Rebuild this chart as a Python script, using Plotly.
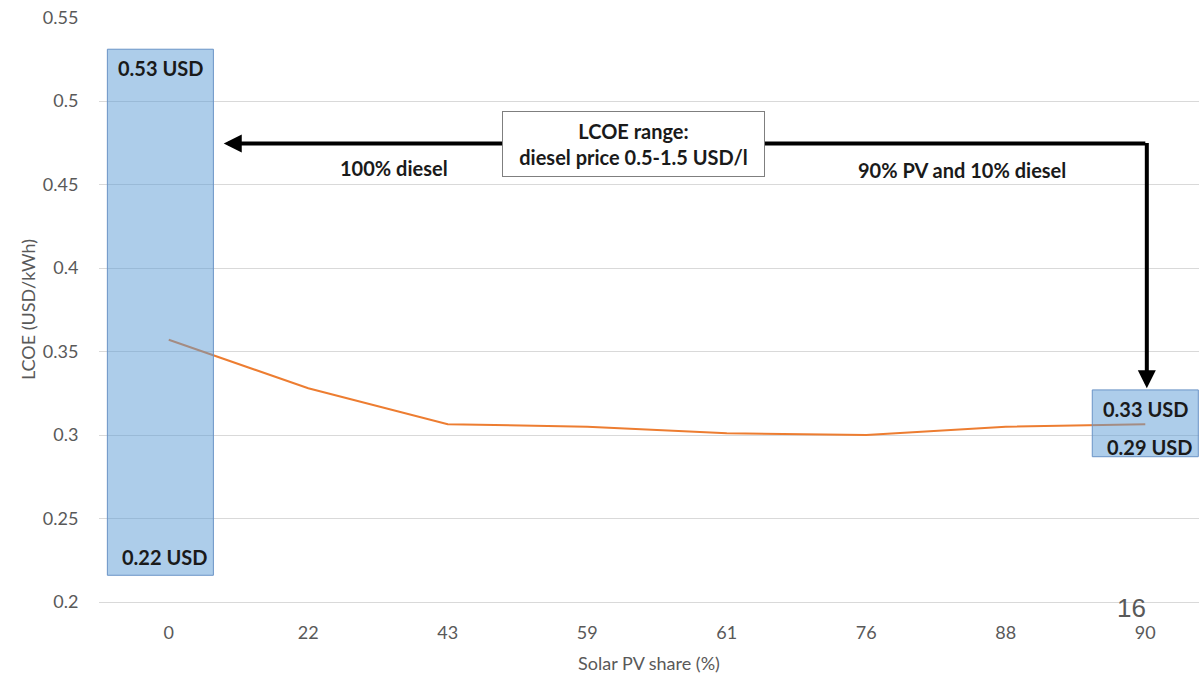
import plotly.graph_objects as go

# ---- data ----
pv_share_labels = ["0", "22", "43", "59", "61", "76", "88", "90"]
lcoe_values = [0.357, 0.328, 0.3065, 0.305, 0.301, 0.300, 0.305, 0.3065]

range_categories = ["0", "90"]
range_low = [0.216, 0.287]
range_high = [0.531, 0.327]
range_low_text = ["0.22 USD", "0.29 USD"]
range_high_text = ["0.53 USD", "0.33 USD"]

y_tick_vals = [0.2, 0.25, 0.3, 0.35, 0.4, 0.45, 0.5, 0.55]
y_tick_text = ["0.2", "0.25", "0.3", "0.35", "0.4", "0.45", "0.5", "0.55"]

# ---- style ----
FONT = "Lato"
GREY = "#595959"
DARK = "#1a1a1a"
GRID = "#D9D9D9"
BOX_FILL = "rgba(91,155,213,0.5)"
BOX_LINE = "#6A93C6"
BOX_HALF = 0.38
BOX_SHIFT = {"0": -0.06, "90": 0.0}
LOW_LABEL_SHIFT = {"0": 4, "90": -4}
BOLD = dict(family=FONT, size=20, color=DARK)

idx = list(range(len(pv_share_labels)))
pos = {lab: i for i, lab in enumerate(pv_share_labels)}

fig = go.Figure()

fig.add_trace(go.Scatter(
    x=idx, y=lcoe_values, mode="lines",
    line=dict(color="#ED7D31", width=2), hoverinfo="skip", showlegend=False))

for cat, lo, hi in zip(range_categories, range_low, range_high):
    c = pos[cat] + BOX_SHIFT[cat]
    fig.add_trace(go.Scatter(
        x=[c - BOX_HALF, c + BOX_HALF, c + BOX_HALF, c - BOX_HALF, c - BOX_HALF],
        y=[lo, lo, hi, hi, lo], mode="lines", fill="toself",
        fillcolor=BOX_FILL, line=dict(color=BOX_LINE, width=1),
        hoverinfo="skip", showlegend=False))

annotations = []
for cat, lo, hi, tlo, thi in zip(range_categories, range_low, range_high,
                                  range_low_text, range_high_text):
    c = pos[cat] + BOX_SHIFT[cat]
    annotations.append(dict(x=c, y=hi, xref="x", yref="y", text=f"<b>{thi}</b>",
                            showarrow=False, yanchor="top", yshift=-5, font=BOLD))
    annotations.append(dict(x=c + 0.03, y=lo, xref="x", yref="y", text=f"<b>{tlo}</b>",
                            showarrow=False, yanchor="bottom",
                            yshift=LOW_LABEL_SHIFT[cat], font=BOLD))

# arrows
corner_x = pos["90"] + 0.011
arrow_y = 0.4746
annotations.append(dict(x=0.394, y=arrow_y, ax=corner_x, ay=arrow_y,
                        xref="x", yref="y", axref="x", ayref="y", text="",
                        showarrow=True, arrowhead=2, arrowsize=0.9, arrowwidth=4,
                        arrowcolor="black", standoff=0))
annotations.append(dict(x=corner_x, y=0.328, ax=corner_x, ay=arrow_y + 0.0012,
                        xref="x", yref="y", axref="x", ayref="y", text="",
                        showarrow=True, arrowhead=2, arrowsize=0.9, arrowwidth=4,
                        arrowcolor="black", standoff=0))

annotations.append(dict(x=1.613, y=0.4597, xref="x", yref="y",
                        text="<b>100% diesel</b>", showarrow=False, font=BOLD))
annotations.append(dict(x=5.685, y=0.4585, xref="x", yref="y",
                        text="<b>90% PV and 10% diesel</b>", showarrow=False, font=BOLD))
annotations.append(dict(x=3.33, y=0.4743, xref="x", yref="y",
                        text="<b>LCOE range:<br>diesel price 0.5-1.5 USD/l</b>",
                        showarrow=False, bgcolor="white", bordercolor="#7F7F7F",
                        borderwidth=1, borderpad=6, width=249, height=52, font=BOLD))
annotations.append(dict(x=0.9535, y=-0.039, xref="paper", yref="paper", text="16",
                        showarrow=False, font=dict(family="Liberation Sans", size=26, color=GREY)))

fig.update_layout(
    width=1199, height=675,
    margin=dict(l=99, r=0, t=17, b=73),
    paper_bgcolor="white", plot_bgcolor="white",
    font=dict(family=FONT, color=GREY),
    showlegend=False,
    annotations=annotations,
    xaxis=dict(range=[-0.5, 7.385], tickvals=idx, ticktext=pv_share_labels,
               showgrid=False, zeroline=False, showline=True, linecolor=GRID,
               automargin=False,
               ticks="outside", ticklen=14, tickcolor="rgba(0,0,0,0)",
               tickfont=dict(family=FONT, size=18, color=GREY),
               title=dict(text="Solar PV share (%)", font=dict(family=FONT, size=18, color=GREY),
                          standoff=15)),
    yaxis=dict(range=[0.2, 0.5503], tickvals=y_tick_vals, ticktext=y_tick_text,
               showgrid=True, gridcolor=GRID, gridwidth=1, zeroline=False,
               automargin=False,
               ticks="outside", ticklen=16, tickcolor="rgba(0,0,0,0)",
               tickfont=dict(family=FONT, size=18, color=GREY),
               title=dict(text="LCOE (USD/kWh)", font=dict(family=FONT, size=18, color=GREY),
                          standoff=2)),
)

fig.write_html("out.html", config={"displayModeBar": False},
               post_script="document.body.style.margin='0px';")
